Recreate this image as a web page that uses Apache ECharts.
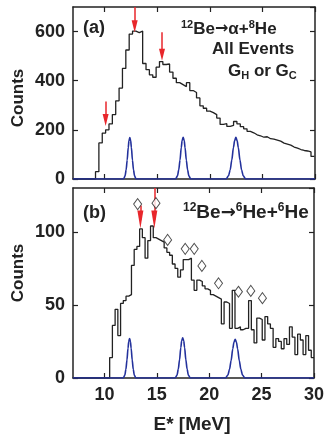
<!DOCTYPE html>
<html>
<head>
<meta charset="utf-8">
<script src="https://cdn.jsdelivr.net/npm/echarts@6/dist/echarts.min.js"></script>
<style>
  html, body { margin: 0; padding: 0; background: #fff; }
  #chart { width: 327px; height: 436px; }
</style>
</head>
<body>
<div id="chart"></div>
<script>
// panel (a): 12Be -> alpha + 8He, bins of 0.32 MeV from 9.14 MeV
const topStart = 9.14;
const topWidth = 0.32;
const topCounts = [30, 147, 187, 200, 224, 262, 318, 370, 450, 525,
  590, 602, 596, 602, 470, 445, 424, 414, 455, 478,
  466, 468, 435, 410, 392, 384, 376, 392, 360, 352,
  330, 298, 288, 276, 270, 262, 248, 222, 225, 214,
  218, 234, 224, 213, 204, 194, 188, 180, 176, 170,
  172, 164, 162, 158, 154, 146, 142, 138, 130, 126,
  120, 116, 114, 110, 92];

// panel (b): 12Be -> 6He + 6He, bins of 0.26 MeV from 10.5 MeV
const botStart = 10.5;
const botWidth = 0.26;
const botCounts = [14, 36, 47, 29, 51, 53, 56, 57, 77, 88,
  90, 102, 96, 82, 94, 104, 96, 95, 94, 93,
  89, 86, 84, 78, 75, 69, 74, 81, 81, 82,
  67, 60, 67, 66, 63, 61, 60, 57, 56, 55,
  54, 37, 52, 51, 34, 60, 34, 35, 33, 34,
  34, 53, 33, 24, 41, 40, 26, 42, 37, 34,
  21, 27, 25, 20, 27, 23, 35, 28, 16, 30,
  26, 16, 29, 19, 14];

// blue response curves (same energies in both panels)
const respE = [7,
  11.8, 11.95, 12.05, 12.15, 12.25, 12.32, 12.4, 12.48, 12.55, 12.65, 12.75, 12.85, 13.0,
  16.75, 16.93, 17.05, 17.17, 17.29, 17.37, 17.47, 17.57, 17.65, 17.77, 17.89, 18.01, 18.19,
  21.55, 21.78, 21.94, 22.09, 22.25, 22.36, 22.48, 22.6, 22.71, 22.87, 23.02, 23.18, 23.41,
  30];
const respTop = [0,
  0, 13, 37, 77, 128, 156, 169, 156, 128, 77, 37, 13, 0,
  0, 13, 37, 77, 128, 156, 170, 156, 128, 77, 37, 13, 0,
  0, 13, 37, 77, 128, 156, 170, 156, 128, 77, 37, 13, 0,
  0];
const respBot = [0,
  0, 2, 6, 12.3, 20.4, 25, 27, 25, 20.4, 12.3, 6, 2, 0,
  0, 2, 6.1, 12.5, 20.8, 25.4, 27.5, 25.4, 20.8, 12.5, 6.1, 2, 0,
  0, 2, 5.9, 12, 20, 24.5, 26.5, 24.5, 20, 12, 5.9, 2, 0,
  0];

// red arrows: [energy, shaft top, head centre]
const topArrows = [[10.1, 315, 240], [12.86, 700, 622], [15.46, 597, 506]];
const botArrows = [[13.43, 118, 108.5], [14.76, 130, 108.5]];

// open diamonds in panel (b)
const diamonds = [[13.17, 119], [14.92, 119.6], [16.03, 94.5], [17.71, 88.4], [18.57, 88.4],
  [19.3, 76.7], [20.89, 64.8], [22.79, 59], [23.97, 59.6], [25.08, 54.6]];

const xTicks = [10, 15, 20, 25, 30];

function histPoints(start, width, counts) {
  const pts = [[7, 0]];
  counts.forEach((c, i) => pts.push([start + i * width, c]));
  pts.push([Math.min(30, start + counts.length * width), counts[counts.length - 1]]);
  return pts;
}

const FONT = '"Liberation Sans", Arial, Helvetica, sans-serif';
const INK = '#222';
const RED = '#e8262b';
const BLUE = '#23319c';

const lineAxis = { onZero: false, lineStyle: { color: INK, width: 1.5 } };
const tickStyle = { inside: true, length: 5, lineStyle: { color: INK, width: 1.2 } };
const labelStyle = { color: INK, fontFamily: FONT, fontWeight: 'bold', fontSize: 18 };

function xAxis(grid, pos, labels) {
  return {
    type: 'value', gridIndex: grid, position: pos, min: 7, max: 30,
    axisLine: lineAxis,
    axisTick: Object.assign({ customValues: xTicks }, tickStyle),
    axisLabel: labels
      ? Object.assign({ customValues: xTicks, margin: 8 }, labelStyle)
      : { show: false },
    splitLine: { show: false }
  };
}

function yAxis(grid, pos, max, interval, labels) {
  return {
    type: 'value', gridIndex: grid, position: pos, min: 0, max: max, interval: interval,
    axisLine: lineAxis,
    axisTick: tickStyle,
    axisLabel: labels ? Object.assign({ margin: 8, showMaxLabel: false }, labelStyle) : { show: false },
    splitLine: { show: false }
  };
}

function arrowSeries(grid, arrows, size) {
  return {
    type: 'line', xAxisIndex: grid * 2, yAxisIndex: grid * 2, data: [], clip: false,
    markLine: {
      silent: true, animation: false,
      symbol: ['none', 'triangle'], symbolSize: size,
      lineStyle: { color: RED, width: 1.5, type: 'solid' },
      itemStyle: { color: RED },
      label: { show: false },
      emphasis: { disabled: true },
      data: arrows.map(a => [{ coord: [a[0], a[1]] }, { coord: [a[0], a[2]] }])
    },
    z: 6
  };
}

function rich(size, supSize) {
  return {
    n: { fill: INK, fontFamily: FONT, fontWeight: 'bold', fontSize: size, lineHeight: size + 3 },
    s: { fill: INK, fontFamily: FONT, fontWeight: 'bold', fontSize: supSize, lineHeight: supSize + 1, verticalAlign: 'top' },
    b: { fill: INK, fontFamily: FONT, fontWeight: 'bold', fontSize: supSize, lineHeight: supSize + 1, verticalAlign: 'bottom' },
    a: { fill: INK, fontFamily: '"DejaVu Sans"', fontWeight: 'bold', fontSize: size - 1, lineHeight: size + 3 }
  };
}

const chart = echarts.init(document.getElementById('chart'), null, { renderer: 'canvas' });

chart.setOption({
  animation: false,
  backgroundColor: '#fff',
  grid: [
    { left: 73, right: 12, top: 7, height: 172 },
    { left: 73, right: 12, top: 188, height: 190 }
  ],
  xAxis: [xAxis(0, 'bottom', false), xAxis(0, 'top', false), xAxis(1, 'bottom', true), xAxis(1, 'top', false)],
  yAxis: [yAxis(0, 'left', 700, 200, true), yAxis(0, 'right', 700, 200, false),
    yAxis(1, 'left', 130, 50, true), yAxis(1, 'right', 130, 50, false)],
  series: [
    {
      type: 'line', xAxisIndex: 0, yAxisIndex: 0, step: 'end', symbol: 'none',
      data: histPoints(topStart, topWidth, topCounts),
      lineStyle: { color: INK, width: 1.3 }, z: 3
    },
    {
      type: 'line', xAxisIndex: 0, yAxisIndex: 0, symbol: 'none', smooth: 0.3, smoothMonotone: 'x',
      data: respE.map((e, i) => [e, respTop[i]]),
      lineStyle: { color: BLUE, width: 1.6 }, z: 4
    },
    {
      type: 'line', xAxisIndex: 2, yAxisIndex: 2, step: 'end', symbol: 'none',
      data: histPoints(botStart, botWidth, botCounts),
      lineStyle: { color: INK, width: 1.3 }, z: 3
    },
    {
      type: 'line', xAxisIndex: 2, yAxisIndex: 2, symbol: 'none', smooth: 0.3, smoothMonotone: 'x',
      data: respE.map((e, i) => [e, respBot[i]]),
      lineStyle: { color: BLUE, width: 1.6 }, z: 4
    },
    {
      type: 'scatter', xAxisIndex: 2, yAxisIndex: 2, symbol: 'diamond', symbolSize: [8, 11],
      data: diamonds,
      itemStyle: { color: '#fff', borderColor: INK, borderWidth: 1 }, z: 5
    },
    arrowSeries(0, topArrows, [6, 12]),
    arrowSeries(1, botArrows, [6, 18])
  ],
  graphic: [
    {
      type: 'text', x: 18, y: 98, rotation: Math.PI / 2,
      style: { text: 'Counts', fill: INK, font: 'bold 17px ' + FONT, align: 'center', verticalAlign: 'middle' }
    },
    {
      type: 'text', x: 18, y: 273, rotation: Math.PI / 2,
      style: { text: 'Counts', fill: INK, font: 'bold 17px ' + FONT, align: 'center', verticalAlign: 'middle' }
    },
    {
      type: 'text', x: 192, y: 425,
      style: { text: 'E* [MeV]', fill: INK, font: 'bold 19px ' + FONT, align: 'center', verticalAlign: 'middle' }
    },
    {
      type: 'text', x: 83, y: 28,
      style: { text: '(a)', fill: INK, font: 'bold 18px ' + FONT, align: 'left', verticalAlign: 'middle' }
    },
    {
      type: 'text', x: 83, y: 213,
      style: { text: '(b)', fill: INK, font: 'bold 18px ' + FONT, align: 'left', verticalAlign: 'middle' }
    },
    {
      type: 'text', x: 181, y: 29,
      style: { text: '{s|12}{n|Be}{a|→}{n|α+}{s|8}{n|He}', align: 'left', verticalAlign: 'middle', rich: rich(17, 11) }
    },
    {
      type: 'text', x: 212, y: 49,
      style: { text: 'All Events', fill: INK, font: 'bold 17px ' + FONT, align: 'left', verticalAlign: 'middle' }
    },
    {
      type: 'text', x: 228, y: 71,
      style: { text: '{n|G}{b|H}{n| or G}{b|C}', align: 'left', verticalAlign: 'middle', rich: rich(17, 11) }
    },
    {
      type: 'text', x: 183, y: 213,
      style: { text: '{s|12}{n|Be}{a|→}{s|6}{n|He+}{s|6}{n|He}', align: 'left', verticalAlign: 'middle', rich: rich(19, 12) }
    }
  ]
});
</script>
</body>
</html>
